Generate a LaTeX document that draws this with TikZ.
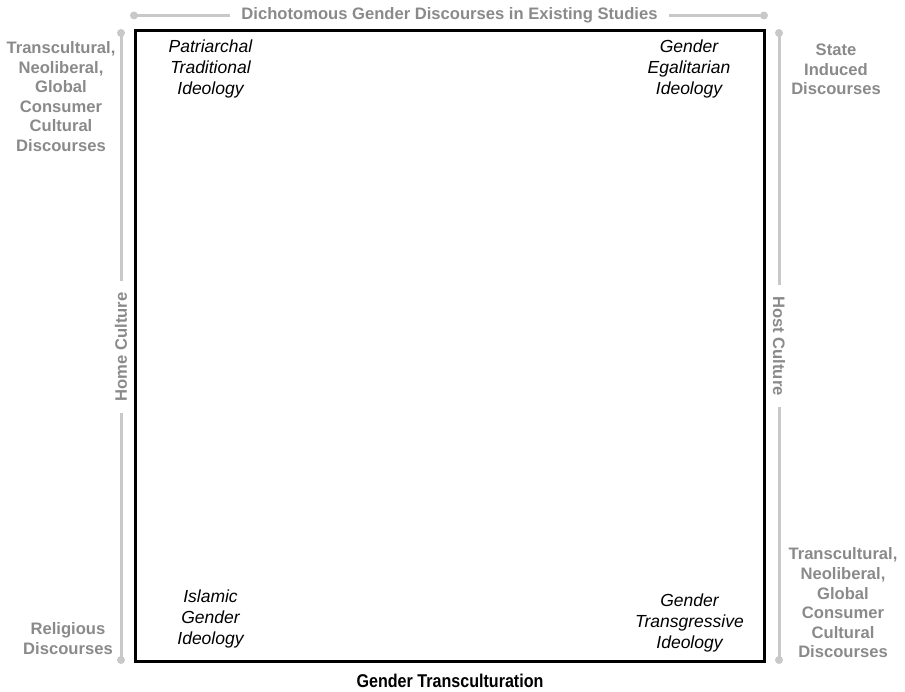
\documentclass[tikz,border=0pt]{standalone}
\usepackage{fontspec}
\setmainfont{Liberation Sans}
\usepackage{graphicx}
\definecolor{lab}{HTML}{8A8A8A}
\definecolor{axis}{HTML}{C8C8C8}
\begin{document}
\begin{tikzpicture}[x=1pt,y=-1pt,
  side/.style={font=\fontsize{16.6}{19.6}\selectfont\bfseries, text=lab, align=center, inner sep=0pt},
  quad/.style={font=\fontsize{17.5}{21}\selectfont\itshape, text=black, align=center, inner sep=0pt},
  axislabel/.style={font=\fontsize{16.6}{19.6}\selectfont\bfseries, text=lab, inner ysep=0pt, inner xsep=11pt},
  axisline/.style={draw=axis, line width=3pt},
  dot/.style={circle, fill=axis, inner sep=0pt, minimum size=8pt}]
\useasboundingbox (0,0) rectangle (905,692);
% main box
\node[draw, line width=3pt, minimum width=629.5pt, minimum height=630.5pt, inner sep=0pt, outer sep=0pt] (box) at (449.75,346.25) {};
% axis end points
\coordinate (tl) at (134,15.5);
\coordinate (tr) at (764,15.5);
\coordinate (lt) at (121,33);
\coordinate (lb) at (121,660);
\coordinate (rt) at (779,33);
\coordinate (rb) at (779,660);
% axis labels
\node[axislabel] (title) at (449.5,15.5) {Dichotomous Gender Discourses in Existing Studies};
\node[axislabel, rotate=90] (home) at (121,347) {Home Culture};
\node[axislabel, rotate=-90] (host) at (779,346) {Host Culture};
% axis lines
\draw[axisline] (tl) -- (title.west);
\draw[axisline] (title.east) -- (tr);
\draw[axisline] (lt) -- (home.east);
\draw[axisline] (home.west) -- (lb);
\draw[axisline] (rt) -- (host.west);
\draw[axisline] (host.east) -- (rb);
\foreach \p in {tl,tr,lt,lb,rt,rb} \node[dot] at (\p) {};
% side discourses
\node[side] (ltd) at (61,96.5) {Transcultural,\\Neoliberal,\\Global\\Consumer\\Cultural\\Discourses};
\node[side] (lbd) at (68,638.5) {Religious\\Discourses};
\node[side] (rtd) at (836,69.5) {State\\Induced\\Discourses};
\node[side] (rbd) at (843,603) {Transcultural,\\Neoliberal,\\Global\\Consumer\\Cultural\\Discourses};
% quadrant ideologies
\node[quad] (q1) at (210.5,69) {Patriarchal\\Traditional\\Ideology};
\node[quad] (q2) at (689,69) {Gender\\Egalitarian\\Ideology};
\node[quad] (q3) at (210.5,619) {Islamic\\Gender\\Ideology};
\node[quad] (q4) at (689.5,622.5) {Gender\\Transgressive\\Ideology};
% bottom label
\node[inner sep=0pt, font=\fontsize{18.5}{20}\selectfont\bfseries] (bottom) at (450,681) {\scalebox{0.87}[1]{Gender Transculturation}};
\end{tikzpicture}
\end{document}
